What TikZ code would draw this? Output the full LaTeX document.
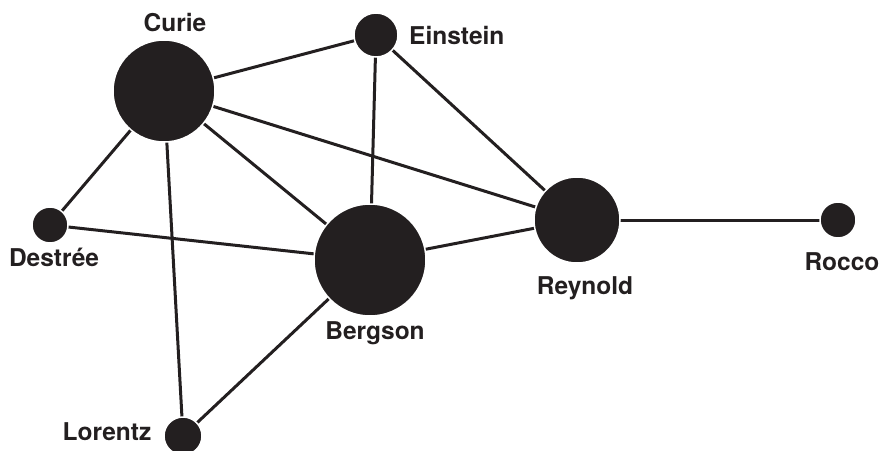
\documentclass[tikz,border=0pt]{standalone}
\usepackage{fontspec}
\setmainfont{TeX Gyre Heros}
\definecolor{ink}{HTML}{231F20}
\begin{document}
\begin{tikzpicture}[x=1pt,y=-1pt,
  person/.style={circle,fill=ink,draw=white,line width=1.5pt,inner sep=0pt},
  tie/.style={draw=ink,line width=3pt},
  lbl/.style={inner sep=0pt,text=ink,font=\fontsize{24.5}{28}\selectfont\bfseries,anchor=base}]
\useasboundingbox (0,0) rectangle (881,450);
\coordinate (cC) at (164,91);
\coordinate (cE) at (376,35);
\coordinate (cD) at (50,225);
\coordinate (cB) at (370,260);
\coordinate (cR) at (577,220);
\coordinate (cO) at (838,220);
\coordinate (cL) at (183,436);
\draw[tie] (cC) -- (cE);
\draw[tie] (cC) -- (cR);
\draw[tie] (cC) -- (cB);
\draw[tie] (cC) -- (cD);
\draw[tie] (cC) -- (cL);
\draw[tie] (cE) -- (cB);
\draw[tie] (cE) -- (cR);
\draw[tie] (cD) -- (cB);
\draw[tie] (cB) -- (cR);
\draw[tie] (cB) -- (cL);
\draw[tie] (cR) -- (cO);
\node[person,minimum size=102pt] (curie) at (cC) {};
\node[person,minimum size=44pt] (einstein) at (cE) {};
\node[person,minimum size=36pt] (destree) at (cD) {};
\node[person,minimum size=112pt] (bergson) at (cB) {};
\node[person,minimum size=86pt] (reynold) at (cR) {};
\node[person,minimum size=36pt] (rocco) at (cO) {};
\node[person,minimum size=38pt] (lorentz) at (cL) {};
\node[lbl] (tcurie) at (175,31) {Curie};
\node[lbl,anchor=base west] (teinstein) at (409,44) {Einstein};
\node[lbl] (tdestree) at (54,266) {Destrée};
\node[lbl] (tbergson) at (375,339) {Bergson};
\node[lbl] (treynold) at (585,294) {Reynold};
\node[lbl] (trocco) at (842,270) {Rocco};
\node[lbl] (tlorentz) at (107,440) {Lorentz};
\end{tikzpicture}
\end{document}
